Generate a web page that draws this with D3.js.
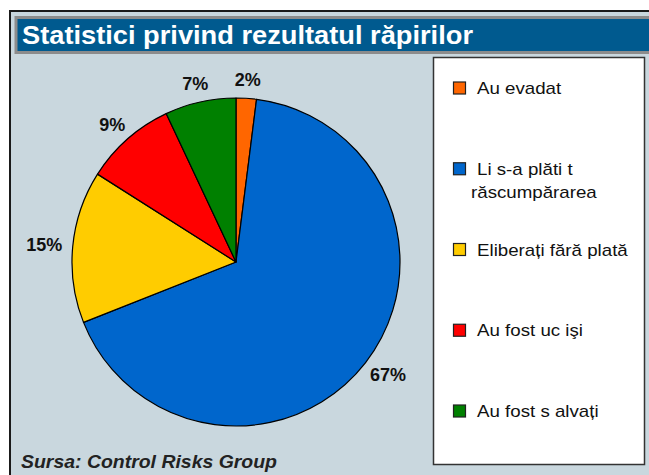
<!DOCTYPE html>
<html><head><meta charset="utf-8">
<script src="https://cdn.jsdelivr.net/npm/d3@7"></script>
<style>html,body{margin:0;padding:0;background:#fff;}svg{display:block;}</style>
</head><body>
<svg id="c" width="649" height="475"></svg>
<script>
const categories = ["Au evadat", "Li s-a plăti t|răscumpărarea", "Eliberați fără plată", "Au fost uc işi", "Au fost s alvați"];
const values = [2, 67, 15, 9, 7];
const colors = ["#FF6600", "#0066CC", "#FFCC00", "#FF0000", "#008000"];
const titleText = "Statistici privind rezultatul răpirilor";
const sourceText = "Sursa: Control Risks Group";

const svg = d3.select("#c");
const font = "'Liberation Sans', Arial, sans-serif";

// frame
svg.append("rect").attr("x", 10).attr("y", 11).attr("width", 700).attr("height", 500)
  .attr("fill", "#C9D7DE").attr("stroke", "#1a1a1a").attr("stroke-width", 2);
// title bar
svg.append("rect").attr("x", 16).attr("y", 17.5).attr("width", 700).attr("height", 35)
  .attr("fill", "#005A8F").attr("stroke", "#8C8C8C").attr("stroke-width", 3);
svg.append("text").attr("x", 22).attr("y", 44).text(titleText)
  .attr("font-family", font).attr("font-weight", "bold").attr("font-size", 26.5)
  .attr("fill", "#fff").attr("textLength", 451).attr("lengthAdjust", "spacingAndGlyphs");

// pie
const cx = 236, cy = 262, r = 164;
const pie = d3.pie().sort(null).value(d => d)(values);
const arc = d3.arc().innerRadius(0).outerRadius(r);
const g = svg.append("g").attr("transform", `translate(${cx},${cy})`);
g.selectAll("path").data(pie).join("path")
  .attr("d", arc).attr("fill", (d, i) => colors[i])
  .attr("stroke", "#000").attr("stroke-width", 1.2).attr("stroke-linejoin", "round");

// labels
const R0 = 176;
g.selectAll("text.lbl").data(pie).join("text").attr("class", "lbl")
  .each(function(d) {
    const a = (d.startAngle + d.endAngle) / 2;
    const s = Math.sin(a), c = Math.cos(a);
    const txt = d.value + "%";
    const w = txt.length * 11;
    const x = R0 * s + (w / 2) * s;
    const y = -R0 * c - 7 * c;
    d3.select(this).attr("x", x).attr("y", y + 6.5).text(txt);
  })
  .attr("text-anchor", "middle").attr("font-family", font).attr("font-weight", "bold")
  .attr("font-size", 18).attr("fill", "#111");

// legend
svg.append("rect").attr("x", 433.5).attr("y", 57.5).attr("width", 211).attr("height", 407)
  .attr("fill", "#fff").attr("stroke", "#333").attr("stroke-width", 1.5);
const ly = d3.scalePoint().domain(categories).range([88, 411]);
const lg = svg.append("g").selectAll("g").data(categories).join("g")
  .attr("transform", d => `translate(0,${ly(d)})`);
lg.append("rect").attr("x", 453.5).attr("y", -6).attr("width", 12).attr("height", 12)
  .attr("fill", (d, i) => colors[i]).attr("stroke", "#222").attr("stroke-width", 1.2);
lg.each(function(d) {
  const lines = d.split("|");
  const t = d3.select(this).append("text").attr("font-family", font).attr("font-size", 17).attr("fill", "#111");
  lines.forEach((ln, k) => {
    const ts = t.append("tspan").attr("x", k === 0 ? 477 : 471).attr("y", 6 + k * 23).text(ln);
    const len = ts.node().getComputedTextLength();
    ts.attr("textLength", len * 1.1).attr("lengthAdjust", "spacingAndGlyphs");
  });
});

// source
svg.append("text").attr("x", 21).attr("y", 468).text(sourceText)
  .attr("font-family", font).attr("font-weight", "bold").attr("font-style", "italic")
  .attr("font-size", 18).attr("fill", "#222").attr("textLength", 256).attr("lengthAdjust", "spacingAndGlyphs");
</script>
</body></html>
